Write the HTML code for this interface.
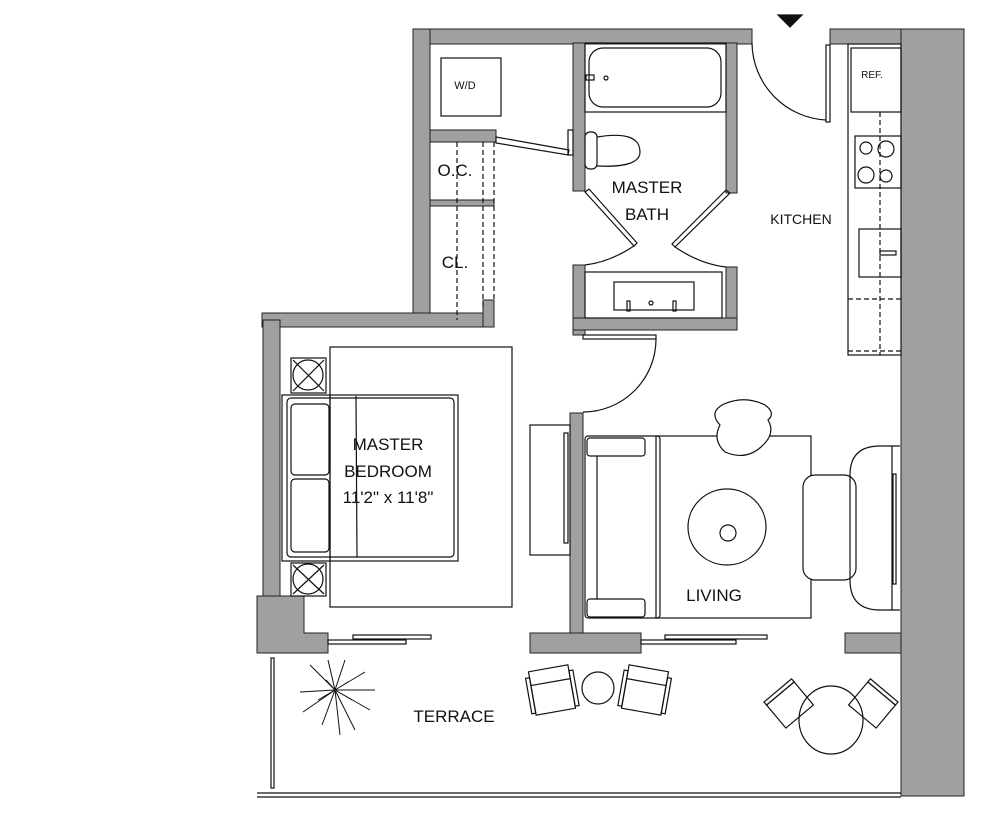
<!DOCTYPE html>
<html><head><meta charset="utf-8"><style>
html,body{margin:0;padding:0;background:#fff}
svg{display:block}
text{font-family:"Liberation Sans",sans-serif;fill:#111}
</style></head><body>
<svg width="984" height="814" viewBox="0 0 984 814" xmlns="http://www.w3.org/2000/svg">
<g fill="#a0a0a0" stroke="#222" stroke-width="1">
<!-- top walls -->
<rect x="413" y="29" width="339" height="15"/>
<rect x="830" y="29" width="134" height="15"/>
<rect x="901" y="29" width="63" height="767"/>
<!-- closet outer wall -->
<rect x="413" y="29" width="17" height="298"/>
<rect x="262" y="313" width="232" height="14"/>
<rect x="483" y="300" width="11" height="27"/>
<rect x="430" y="130" width="66" height="12"/>
<rect x="430" y="200" width="64" height="6"/>
<!-- bath walls -->
<rect x="573" y="43" width="12" height="148"/>
<rect x="726" y="43" width="11" height="150"/>
<rect x="573" y="265" width="12" height="70"/>
<rect x="726" y="267" width="11" height="63"/>
<rect x="573" y="318" width="164" height="12"/>
<!-- bedroom left wall -->
<rect x="263" y="320" width="17" height="280"/>
<path d="M257 596 H304 V633 H328 V653 H257 Z"/>
<!-- living wall -->
<rect x="570" y="413" width="13" height="222"/>
<rect x="530" y="633" width="111" height="20"/>
<rect x="845" y="633" width="56" height="20"/>
</g>
<g fill="none" stroke="#111" stroke-width="1.2">
<!-- entry -->
<polygon points="778,15 802,15 790,27" fill="#111"/>
<path d="M752 43 A78 78 0 0 0 826 120"/>
<rect x="826" y="45" width="4" height="77"/>
<!-- kitchen -->
<rect x="848" y="44" width="53" height="311"/>
<rect x="851" y="48" width="50" height="64"/>
<text x="872" y="78" font-size="10" text-anchor="middle" stroke="none">REF.</text>
<line x1="880" y1="112" x2="880" y2="355" stroke-dasharray="5,3"/>
<line x1="848" y1="299" x2="901" y2="299" stroke-dasharray="5,3"/>
<line x1="848" y1="351" x2="901" y2="351" stroke-dasharray="5,3"/>
<rect x="855" y="136" width="46" height="52"/>
<circle cx="866" cy="148" r="6"/><circle cx="886" cy="149" r="8"/>
<circle cx="866" cy="175" r="8"/><circle cx="886" cy="176" r="6"/>
<rect x="859" y="229" width="42" height="48"/>
<rect x="880" y="251" width="16" height="4"/>
<!-- W/D & closets -->
<rect x="441" y="58" width="60" height="58"/>
<line x1="457" y1="142" x2="457" y2="320" stroke-dasharray="5,3"/>
<line x1="483" y1="142" x2="483" y2="310" stroke-dasharray="5,3"/>
<line x1="494" y1="142" x2="494" y2="300" stroke-dasharray="5,3"/>
<polygon points="496,137 569,150 568,155 496,143"/>
<rect x="568" y="130" width="5" height="25"/>
<!-- bath -->
<rect x="585" y="43" width="141" height="69"/>
<rect x="589" y="48" width="132" height="59" rx="14"/>
<circle cx="606" cy="78" r="2"/><rect x="586" y="75" width="8" height="5"/>
<rect x="585" y="132" width="12" height="37" rx="5"/>
<path d="M597 137 Q640 130 640 152 Q640 168 597 166"/>
<polygon points="585,192 589,189 637,243 634,246"/>
<polygon points="730,193 726,190 672,244 675,247"/>
<path d="M634 246 Q610 262 585 265"/>
<path d="M675 247 Q700 264 726 267"/>
<rect x="585" y="272" width="137" height="46"/>
<rect x="614" y="282" width="80" height="28"/>
<rect x="627" y="301" width="3" height="10"/><rect x="673" y="301" width="3" height="10"/>
<circle cx="651" cy="303" r="2"/>
<!-- bath door -->
<rect x="583" y="335" width="73" height="4"/>
<path d="M656 339 A73 73 0 0 1 583 412"/>
<!-- bedroom -->
<rect x="330" y="347" width="182" height="260"/>
<rect x="282" y="395" width="176" height="166"/>
<rect x="287" y="398" width="167" height="159" rx="4"/>
<line x1="356" y1="396" x2="357" y2="557"/>
<rect x="291" y="404" width="38" height="71" rx="4"/>
<rect x="291" y="479" width="38" height="73" rx="4"/>
<line x1="330" y1="395" x2="330" y2="561"/>
<rect x="291" y="358" width="35" height="35"/>
<circle cx="308" cy="375" r="15"/>
<line x1="293" y1="360" x2="324" y2="391"/><line x1="324" y1="360" x2="293" y2="391"/>
<rect x="291" y="563" width="35" height="33"/>
<circle cx="308" cy="579" r="15"/>
<line x1="293" y1="565" x2="324" y2="594"/><line x1="324" y1="565" x2="293" y2="594"/>
<!-- living -->
<rect x="530" y="425" width="40" height="130"/>
<rect x="564" y="433" width="4" height="110"/>
<rect x="656" y="436" width="155" height="182"/>
<rect x="585" y="436" width="75" height="182" rx="3"/>
<rect x="587" y="438" width="58" height="18" rx="3"/>
<rect x="587" y="599" width="58" height="18" rx="3"/>
<line x1="597" y1="456" x2="597" y2="599"/>
<path d="M724 404 Q745 395 765 405 Q776 413 768 420 Q775 432 765 443 Q748 462 725 452 Q712 440 720 425 Q708 412 724 404 Z" fill="#fff"/>
<ellipse cx="727" cy="527" rx="39" ry="38"/>
<circle cx="728" cy="533" r="8"/>
<rect x="803" y="475" width="53" height="105" rx="12" fill="#fff"/>
<path d="M900 446 H880 Q850 446 850 475 V580 Q850 610 880 610 H900"/>
<line x1="892" y1="446" x2="892" y2="610"/>
<rect x="893" y="474" width="3" height="110"/>
<!-- sliding doors -->
<rect x="328" y="640" width="78" height="4"/><rect x="353" y="635" width="78" height="4"/>
<rect x="641" y="640" width="95" height="4"/><rect x="665" y="635" width="102" height="4"/>
<!-- terrace -->
<rect x="271" y="658" width="3" height="130"/>
<line x1="257" y1="793" x2="901" y2="793"/>
<line x1="257" y1="797" x2="901" y2="797"/>
<g transform="rotate(-10 552 690)"><rect x="532" y="668" width="40" height="44"/><line x1="532" y1="682" x2="572" y2="682"/><rect x="528" y="674" width="4" height="36"/><rect x="572" y="674" width="4" height="36"/></g>
<circle cx="598" cy="688" r="16"/>
<g transform="rotate(10 645 690)"><rect x="625" y="668" width="40" height="44"/><line x1="625" y1="682" x2="665" y2="682"/><rect x="621" y="674" width="4" height="36"/><rect x="665" y="674" width="4" height="36"/></g>
<ellipse cx="831" cy="720" rx="32" ry="34"/>
<g transform="rotate(-40 790 705)"><rect x="772" y="690" width="36" height="30"/><rect x="772" y="686" width="36" height="4"/></g>
<g transform="rotate(40 872 705)"><rect x="854" y="690" width="36" height="30"/><rect x="854" y="686" width="36" height="4"/></g>
<!-- plant -->
<g stroke-width="1">
<path d="M335 690 L310 665 M335 690 L328 660 M335 690 L345 660 M335 690 L365 672 M335 690 L375 690 M335 690 L370 710 M335 690 L355 730 M335 690 L340 735 M335 690 L322 725 M335 690 L303 712 M335 690 L300 692 M335 690 L318 700 M335 690 L352 700 M335 690 L348 682 M335 690 L326 680"/>
</g>
</g>
<g font-size="17" text-anchor="middle">
<text x="465" y="89" font-size="11">W/D</text>
<text x="455" y="176">O.C.</text>
<text x="455" y="268">CL.</text>
<text x="647" y="193">MASTER</text>
<text x="647" y="220">BATH</text>
<text x="801" y="224" font-size="14">KITCHEN</text>
<text x="388" y="450">MASTER</text>
<text x="388" y="477">BEDROOM</text>
<text x="388" y="503">11'2" x 11'8"</text>
<text x="714" y="601">LIVING</text>
<text x="454" y="722">TERRACE</text>
</g>
</svg>
</body></html>
